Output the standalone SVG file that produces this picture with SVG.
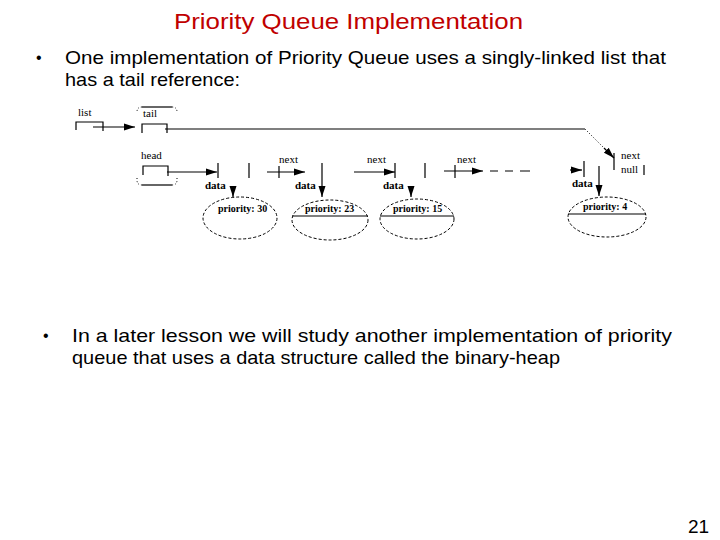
<svg xmlns="http://www.w3.org/2000/svg" width="720" height="540" viewBox="0 0 720 540">
<defs>
<marker id="ah" markerUnits="userSpaceOnUse" markerWidth="12" markerHeight="8" refX="11" refY="4" orient="auto">
<path d="M0,0.5 L11,4 L0,7.5 Z" fill="#000"/>
</marker>
<style>
.t{font-family:"Liberation Sans",Arial,sans-serif;fill:#000}
.h{font-family:"Liberation Sans",Arial,sans-serif;fill:#c00000;font-size:22px}
.l{font-family:"Liberation Serif","Times New Roman",serif;font-size:11px;fill:#000}
.p{font-family:"Liberation Serif","Times New Roman",serif;font-size:10px;font-weight:bold;fill:#000}
.s{stroke:#000;stroke-width:1.2;fill:none}
.a{stroke:#000;stroke-width:1.2;fill:none;marker-end:url(#ah)}
.e{stroke:#000;stroke-width:1;fill:none;stroke-dasharray:3 2}
.d{stroke:#000;stroke-width:1;fill:none;stroke-dasharray:1 2}
</style>
</defs>
<rect width="720" height="540" fill="#fff"/>
<text class="h" x="174" y="29" textLength="349" lengthAdjust="spacingAndGlyphs">Priority Queue Implementation</text>
<g id="bullet1">
<text class="t" x="36" y="63" font-size="16">•</text>
<text class="t" x="65" y="64" font-size="19" textLength="601" lengthAdjust="spacingAndGlyphs">One implementation of Priority Queue uses a singly-linked list that</text>
<text class="t" x="65" y="86" font-size="19" textLength="175" lengthAdjust="spacingAndGlyphs">has a tail reference:</text>
</g>
<g id="bullet2">
<text class="t" x="43" y="341" font-size="16">•</text>
<text class="t" x="72" y="342" font-size="19" textLength="600" lengthAdjust="spacingAndGlyphs">In a later lesson we will study another implementation of priority</text>
<text class="t" x="72" y="364" font-size="19" textLength="488" lengthAdjust="spacingAndGlyphs">queue that uses a data structure called the binary-heap</text>
</g>
<text class="t" x="688" y="533" font-size="19">21</text>

<g id="list">
<text class="l" x="78" y="116">list</text>
<path class="s" d="M76,130 V122 H103 V131"/>
</g>
<g id="listobj">
<path class="s" d="M142,107 H172"/>
<path class="d" d="M142,107 Q137,107 137,112 M172,107 Q177,107 177,112"/>
<path class="s" d="M142,185 H172"/>
<path class="d" d="M137,178 V180 Q137,185 142,185 M177,178 V180 Q177,185 172,185"/>
<text class="l" x="143" y="117">tail</text>
<path class="s" d="M142,133 V124 H167 V133"/>
<text class="l" x="141" y="159">head</text>
<path class="s" d="M143,175 V166 H168 V176"/>
</g>
<g id="node1">
<path class="s" d="M218,163 V178 M249,163 V178"/>
<text class="l" x="205" y="189" font-weight="bold">data</text>
<ellipse class="e" cx="240" cy="218" rx="37" ry="21"/>
<text class="p" x="218" y="212">priority: 30</text>
</g>
<g id="node2">
<text class="l" x="295" y="189" font-weight="bold">data</text>
<ellipse class="e" cx="330" cy="220" rx="38" ry="20"/>
<path class="s" d="M292,216 H368"/>
<text class="p" x="305" y="212">priority: 23</text>
</g>
<g id="node3">
<path class="s" d="M395,163 V178 M425,163 V178"/>
<text class="l" x="383" y="189" font-weight="bold">data</text>
<ellipse class="e" cx="417" cy="219" rx="37" ry="20"/>
<path class="s" d="M380,216 H454"/>
<text class="p" x="393" y="212">priority: 15</text>
</g>
<g id="node4">
<path class="s" d="M584,161 V177 M614,153 V170 M644,165 V175"/>
<text class="l" x="621" y="159">next</text>
<text class="l" x="621" y="173">null</text>
<text class="l" x="572" y="187" font-weight="bold">data</text>
<ellipse class="e" cx="607" cy="217" rx="39" ry="20"/>
<path class="s" d="M568,214 H646"/>
<text class="p" x="583" y="210">priority: 4</text>
</g>
<g id="connectors">
<path class="a" d="M93,127 H135"/>
<path class="s" d="M165,129 H585"/>
<path class="d" d="M585,129 L607,151"/>
<path class="a" d="M604,148 L614,158"/>
<path class="a" d="M167,172 H217"/>
<path class="a" d="M233,186 V197"/>
<path class="a" d="M267,172 H305"/>
<path class="s" d="M279,166 V178"/>
<text class="l" x="279" y="163">next</text>
<path class="a" d="M322,163 V197"/>
<path class="a" d="M354,172 H395"/>
<text class="l" x="367" y="163">next</text>
<path class="a" d="M411,186 V197"/>
<path class="a" d="M444,171 H483"/>
<path class="s" d="M455,165 V178"/>
<text class="l" x="457" y="163">next</text>
<path class="s" d="M490,171 H498 M505,171 H513 M520,171 H530"/>
<path class="a" d="M570,170 H582"/>
<path class="a" d="M599,166 V196"/>
</g>
</svg>
